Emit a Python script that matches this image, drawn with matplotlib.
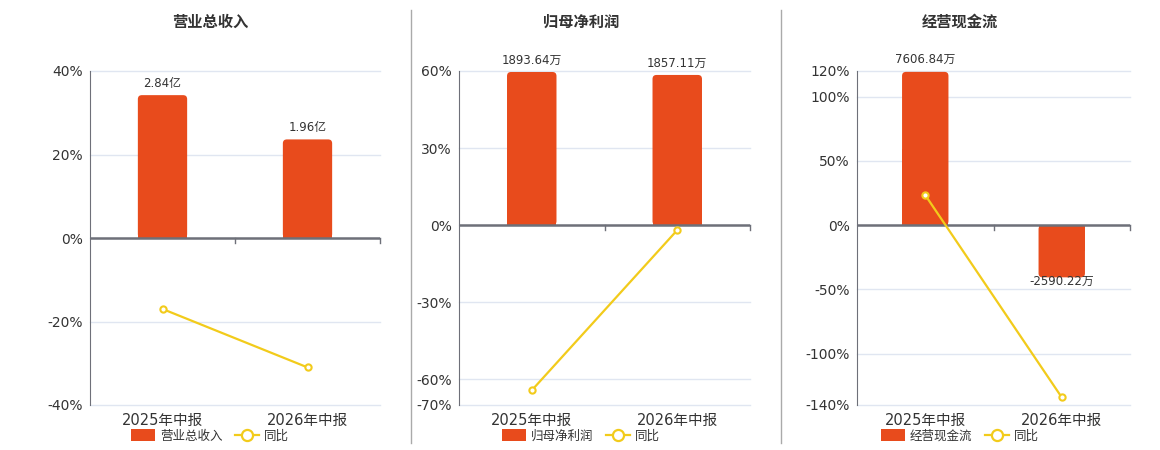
import matplotlib.pyplot as plt
from matplotlib.patches import FancyBboxPatch, Patch
from matplotlib.lines import Line2D

plt.rcParams['font.family'] = ['DejaVu Sans', 'Noto Sans CJK SC']

categories = ['2025年中报', '2026年中报']

revenue = [2.84, 1.96]            # 亿
revenue_yoy = [-17.0, -30.99]     # %
profit = [1893.64, 1857.11]       # 万
profit_yoy = [-64.3, -1.93]
cashflow = [7606.84, -2590.22]    # 万
cashflow_yoy = [23.4, -134.05]

BAR_COLOR = '#E84B1C'
LINE_COLOR = '#F2CB1B'
AXIS_COLOR = '#6E7079'
GRID_COLOR = '#E0E6F1'
TEXT_COLOR = '#333333'

W, H = 1160, 450

panels = [
    dict(title='营业总收入', values=revenue, yoy=revenue_yoy, unit='亿', fmt='{:.2f}',
         ticks=[-40, -20, 0, 20, 40], rect=(90, 71, 380, 405), bar_top=3.32, center=210),
    dict(title='归母净利润', values=profit, yoy=profit_yoy, unit='万', fmt='{:.2f}',
         ticks=[-70, -60, -30, 0, 30, 60], rect=(459, 71, 750, 405), bar_top=1906, center=581),
    dict(title='经营现金流', values=cashflow, yoy=cashflow_yoy, unit='万', fmt='{:.2f}',
         ticks=[-140, -100, -50, 0, 50, 100, 120], rect=(857, 71, 1130, 405), bar_top=7650, center=960),
]

fig = plt.figure(figsize=(W / 100, H / 100), dpi=100)

for p in panels:
    x0, y0, x1, y1 = p['rect']
    rect = [x0 / W, 1 - y1 / H, (x1 - x0) / W, (y1 - y0) / H]
    ax_bar = fig.add_axes(rect)
    ax = ax_bar.twinx()

    pmin, pmax = min(p['ticks']), max(p['ticks'])
    k = p['bar_top'] / pmax
    ax.set_ylim(pmin, pmax)
    ax_bar.set_ylim(pmin * k, pmax * k)
    ax.set_xlim(-0.5, 1.5)

    # grid on the bar axis (behind everything)
    ax_bar.set_yticks([t * k for t in p['ticks']])
    ax_bar.yaxis.grid(True, color=GRID_COLOR, lw=1)
    ax_bar.tick_params(axis='y', left=False, right=False, labelleft=False, labelright=False)
    for gl in ax_bar.yaxis.get_gridlines():
        gl.set_clip_on(False)
    for s in ax_bar.spines.values():
        s.set_visible(False)

    # bars with rounded outer corners
    xs = list(range(len(categories)))
    bw = 0.34
    px_w = (x1 - x0)
    px_h = (y1 - y0)
    xupp = 2.0 / px_w
    yupp = (pmax - pmin) * k / px_h
    r = 4 * xupp
    for xi, v in zip(xs, p['values']):
        ax_bar.bar(xi, v / 2, width=bw, color=BAR_COLOR, lw=0, zorder=2)
        ax_bar.add_patch(FancyBboxPatch((xi - bw / 2, min(0, v)), bw, abs(v),
                                        boxstyle=f'round,pad=0,rounding_size={r}',
                                        mutation_aspect=yupp / xupp,
                                        fc=BAR_COLOR, ec='none', zorder=2))
        label = p['fmt'].format(v) + p['unit']
        if v >= 0:
            ax_bar.annotate(label, (xi, v), xytext=(0, 4), textcoords='offset points',
                            ha='center', va='bottom', fontsize=8.5, color=TEXT_COLOR)
        else:
            ax_bar.annotate(label, (xi, v), xytext=(0, 2), textcoords='offset points',
                            ha='center', va='top', fontsize=8.5, color=TEXT_COLOR)

    # yoy line
    ax.plot(xs, p['yoy'], color=LINE_COLOR, lw=1.6, marker='o', ms=4.5,
            mfc='white', mec=LINE_COLOR, mew=1.5, zorder=5, clip_on=False)
    ax.axhline(0, color=AXIS_COLOR, lw=1.8, zorder=4)

    # percent axis on the left
    ax.yaxis.tick_left()
    ax.yaxis.set_label_position('left')
    ax.set_yticks(p['ticks'])
    ax.set_yticklabels([f'{t}%' for t in p['ticks']])
    ax.tick_params(axis='y', length=0, pad=5, labelsize=10, labelcolor=TEXT_COLOR)
    for name, s in ax.spines.items():
        s.set_visible(name == 'left')
    ax.spines['left'].set_color(AXIS_COLOR)

    # category labels at the bottom, ticks at boundaries on zero line
    ax_bar.set_xticks(xs)
    ax_bar.set_xticklabels(categories)
    ax_bar.tick_params(axis='x', length=0, pad=6, labelsize=10.5, labelcolor=TEXT_COLOR)
    ax.tick_params(axis='x', bottom=False, labelbottom=False)
    for xb in [0.5, 1.5]:
        ax.plot([xb, xb], [0, -(pmax - pmin) * 5 / px_h], color=AXIS_COLOR, lw=1,
                zorder=4, clip_on=False)

    fig.text(p['center'] / W, 1 - 22 / H, p['title'], ha='center', va='center',
             fontsize=11, fontweight='bold', color=TEXT_COLOR)

    handles = [Patch(fc=BAR_COLOR, ec='none', label=p['title']),
               Line2D([], [], color=LINE_COLOR, lw=1.6, marker='o', ms=8, mfc='white',
                      mec=LINE_COLOR, mew=1.6, label='同比')]
    fig.legend(handles=handles, loc='center', bbox_to_anchor=(p['center'] / W, 1 - 436 / H),
               ncol=2, frameon=False, fontsize=9, handlelength=1.9, handleheight=1.1,
               handletextpad=0.4, columnspacing=1.0, labelcolor=TEXT_COLOR)

for xs_ in [410.5, 780.5]:
    fig.add_artist(Line2D([xs_ / W, xs_ / W], [1 - 10 / H, 1 - 443 / H], color='#AAAAAA', lw=1))

fig.savefig('out.png', dpi=100, facecolor='white')
